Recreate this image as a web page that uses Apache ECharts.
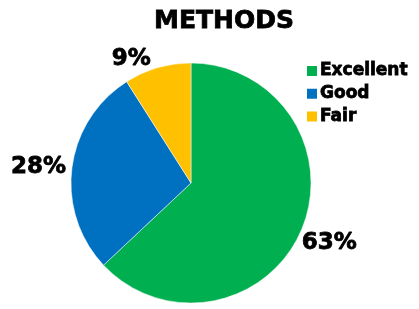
<!DOCTYPE html>
<html>
<head>
<meta charset="utf-8">
<script src="https://cdn.jsdelivr.net/npm/echarts@6/dist/echarts.min.js"></script>
<style>
html,body{margin:0;padding:0;background:#fff;}
#main{width:419px;height:309px;}
</style>
</head>
<body>
<div id="main"></div>
<script>
var categories = ['Excellent', 'Good', 'Fair'];
var values = [63, 28, 9];
var colors = ['#00B050', '#0070C0', '#FFC000'];

var chart = echarts.init(document.getElementById('main'));
var font = 'DejaVu Sans';
// fake a heavier face with a thin stroke of the same colour
var heavy = { textBorderColor: '#000', textBorderWidth: 0.8 };
var option = {
    title: {
        text: 'METHODS',
        left: 219,
        top: 4,
        textAlign: 'center',
        textStyle: Object.assign({
            fontFamily: font,
            fontWeight: 'bold',
            fontSize: 25,
            color: '#000'
        }, heavy)
    },
    legend: {
        orient: 'vertical',
        left: 300,
        top: 57,
        itemWidth: 12,
        itemHeight: 12,
        itemGap: 5,
        icon: 'rect',
        data: categories,
        textStyle: Object.assign({
            fontFamily: font,
            fontWeight: 'bold',
            fontSize: 17,
            color: '#000',
            padding: [0, 0, 0, -3]
        }, heavy)
    },
    series: [{
        type: 'pie',
        center: [191, 183],
        radius: 120,
        startAngle: 90,
        clockwise: true,
        animation: false,
        itemStyle: { borderColor: '#fff', borderWidth: 0.5 },
        label: Object.assign({
            show: true,
            position: 'outside',
            formatter: '{c}%',
            fontFamily: font,
            fontWeight: 'bold',
            fontSize: 23,
            color: '#000',
            overflow: 'none',
            distanceToLabelLine: 0
        }, heavy),
        labelLine: { show: false, length: 6, length2: 0 },
        labelLayout: function (p) {
            if (p.dataIndex === 0) return { dx: -5, dy: 10 };
            if (p.dataIndex === 1) return { dx: 0 };
            if (p.dataIndex === 2) return { dx: -5, dy: -3 };
            return {};
        },
        data: categories.map(function (c, i) {
            return { name: c, value: values[i], itemStyle: { color: colors[i] } };
        })
    }]
};
chart.setOption(option);
window.addEventListener('resize', function () { chart.resize(); });
</script>
</body>
</html>
